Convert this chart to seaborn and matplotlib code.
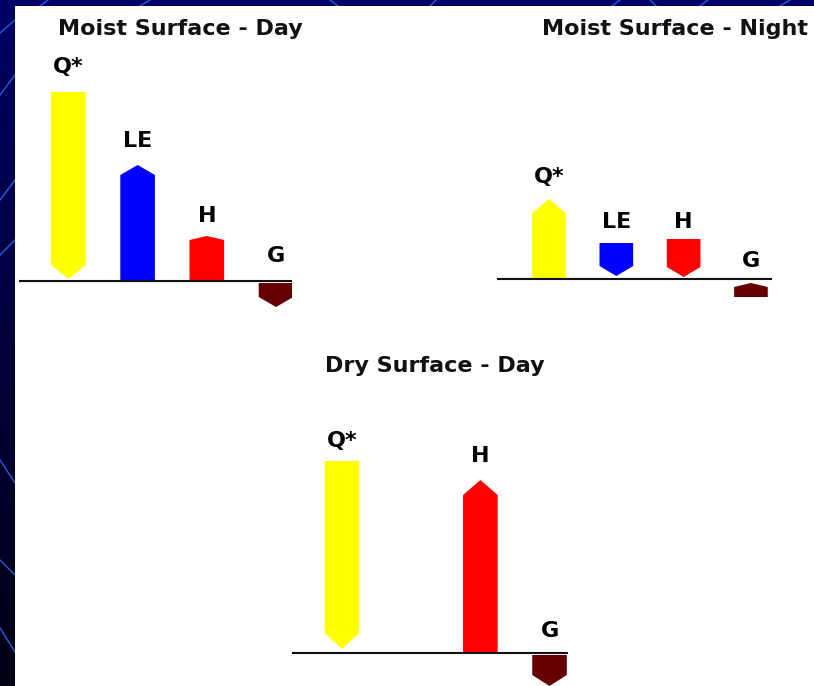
import numpy as np
import pandas as pd
import matplotlib
matplotlib.use("Agg")
import matplotlib.pyplot as plt
from matplotlib.patches import Polygon, Rectangle
from matplotlib.colors import LinearSegmentedColormap
import seaborn as sns

# ---------------- data ----------------
categories = ["Q*", "LE", "H", "G"]
# energy-flux arrows (relative units): value at the flat end and at the pointed end
moist_day_flat = [189, 0, 0, -2]
moist_day_tip = [2, 116, 45, -26]
moist_night_flat = [0, 36, 40, -18]
moist_night_tip = [80, 3, 2, -4]
dry_day_flat = [192, 0, 0, -2]
dry_day_tip = [4, 0, 173, -33]
panel_titles = ["Moist Surface - Day", "Moist Surface - Night", "Dry Surface - Day"]
bar_colors = ["#FFFF00", "#0000FF", "#FF0000", "#660000"]

# ---------------- layout / style ----------------
W, H = 814, 686
FS = 16
panels = [
    dict(flat=moist_day_flat, tip=moist_day_tip, title=panel_titles[0],
         box=(19, 292, 40, 320), base=281, xlim=(-0.714, 3.231),
         tiplen=[14, 10, 4, 10], gaps=[19, 18, 14, 19], title_xy=(180, 35)),
    dict(flat=moist_night_flat, tip=moist_night_tip, title=panel_titles[1],
         box=(497, 772, 40, 320), base=279, xlim=(-0.773, 3.313),
         tiplen=[14, 10, 10, 4], gaps=[16, 15, 11, 12], title_xy=(675, 35)),
    dict(flat=dry_day_flat, tip=dry_day_tip, title=panel_titles[2],
         box=(292, 568, 380, 686), base=653, xlim=(-0.723, 3.267),
         tiplen=[16, 0, 15, 11], gaps=[14, 0, 18, 16], title_xy=(435, 372)),
]

fig = plt.figure(figsize=(W / 100, H / 100), dpi=100)

# background: navy gradient with decorative curves, white slide area
bg = fig.add_axes([0, 0, 1, 1], zorder=-10)
bg.set_xlim(0, W)
bg.set_ylim(H, 0)
bg.axis("off")
grad = np.linspace(0, 1, 256).reshape(-1, 1)
cm = LinearSegmentedColormap.from_list("navy", ["#000066", "#00003a", "#000014"])
bg.imshow(grad, cmap=cm, extent=(0, W, H, 0), aspect="auto", zorder=0)
deco = [((0, 33), (15, 20)), ((0, 95), (15, 75)), ((0, 200), (15, 180)),
        ((0, 255), (15, 240)), ((0, 460), (15, 483)), ((0, 560), (15, 575)),
        ((0, 628), (15, 652)), ((40, 6), (48, 0)), ((140, 6), (150, 0)),
        ((330, 0), (338, 6)), ((430, 6), (436, 0)), ((612, 6), (620, 0)),
        ((650, 0), (656, 6)), ((700, 6), (708, 0)), ((780, 6), (790, 0))]
for (x0, y0), (x1, y1) in deco:
    bg.plot([x0, x1], [y0, y1], color="#2a5fd8", lw=1.0, zorder=1)
bg.add_patch(Rectangle((15, 6), W - 15, H - 6, facecolor="white", edgecolor="none", zorder=2))

for pn in panels:
    left, right, top, bottom = pn["box"]
    ax = fig.add_axes([left / W, 1 - bottom / H, (right - left) / W, (bottom - top) / H])
    ax.patch.set_alpha(0)
    df = pd.DataFrame({"flux": categories, "tip": pn["tip"], "flat": pn["flat"]})
    sns.barplot(data=df, x="flux", y="tip", hue="flux", order=categories,
                hue_order=categories, palette=bar_colors, width=0.5,
                saturation=1, errorbar=None, legend=False, ax=ax)
    for p in list(ax.patches):
        x0, w = p.get_x(), p.get_width()
        xc = x0 + w / 2
        i = int(round(xc))
        f, t = pn["flat"][i], pn["tip"][i]
        fc = p.get_facecolor()
        p.remove()
        if f == t:
            continue
        s = np.sign(t - f)
        sh = t - s * pn["tiplen"][i]
        pts = [(x0, f), (x0 + w, f), (x0 + w, sh), (xc, t), (x0, sh)]
        ax.add_patch(Polygon(pts, closed=True, facecolor=fc, edgecolor="none", zorder=2))
        ax.text(xc, max(f, t, 0) + pn["gaps"][i], categories[i], ha="center",
                va="baseline", fontsize=FS, fontweight="bold", color="black",
                clip_on=False)
    ax.axhline(0, color="#111111", lw=1.5, zorder=3)
    ax.set_xlim(*pn["xlim"])
    ax.set_ylim(pn["base"] - bottom, pn["base"] - top)
    ax.axis("off")
    tx, ty = pn["title_xy"]
    fig.text(tx / W, 1 - ty / H, pn["title"], ha="center", va="baseline",
             fontsize=FS, fontweight="bold", color="#111111")

fig.savefig("out.png", dpi=100)
